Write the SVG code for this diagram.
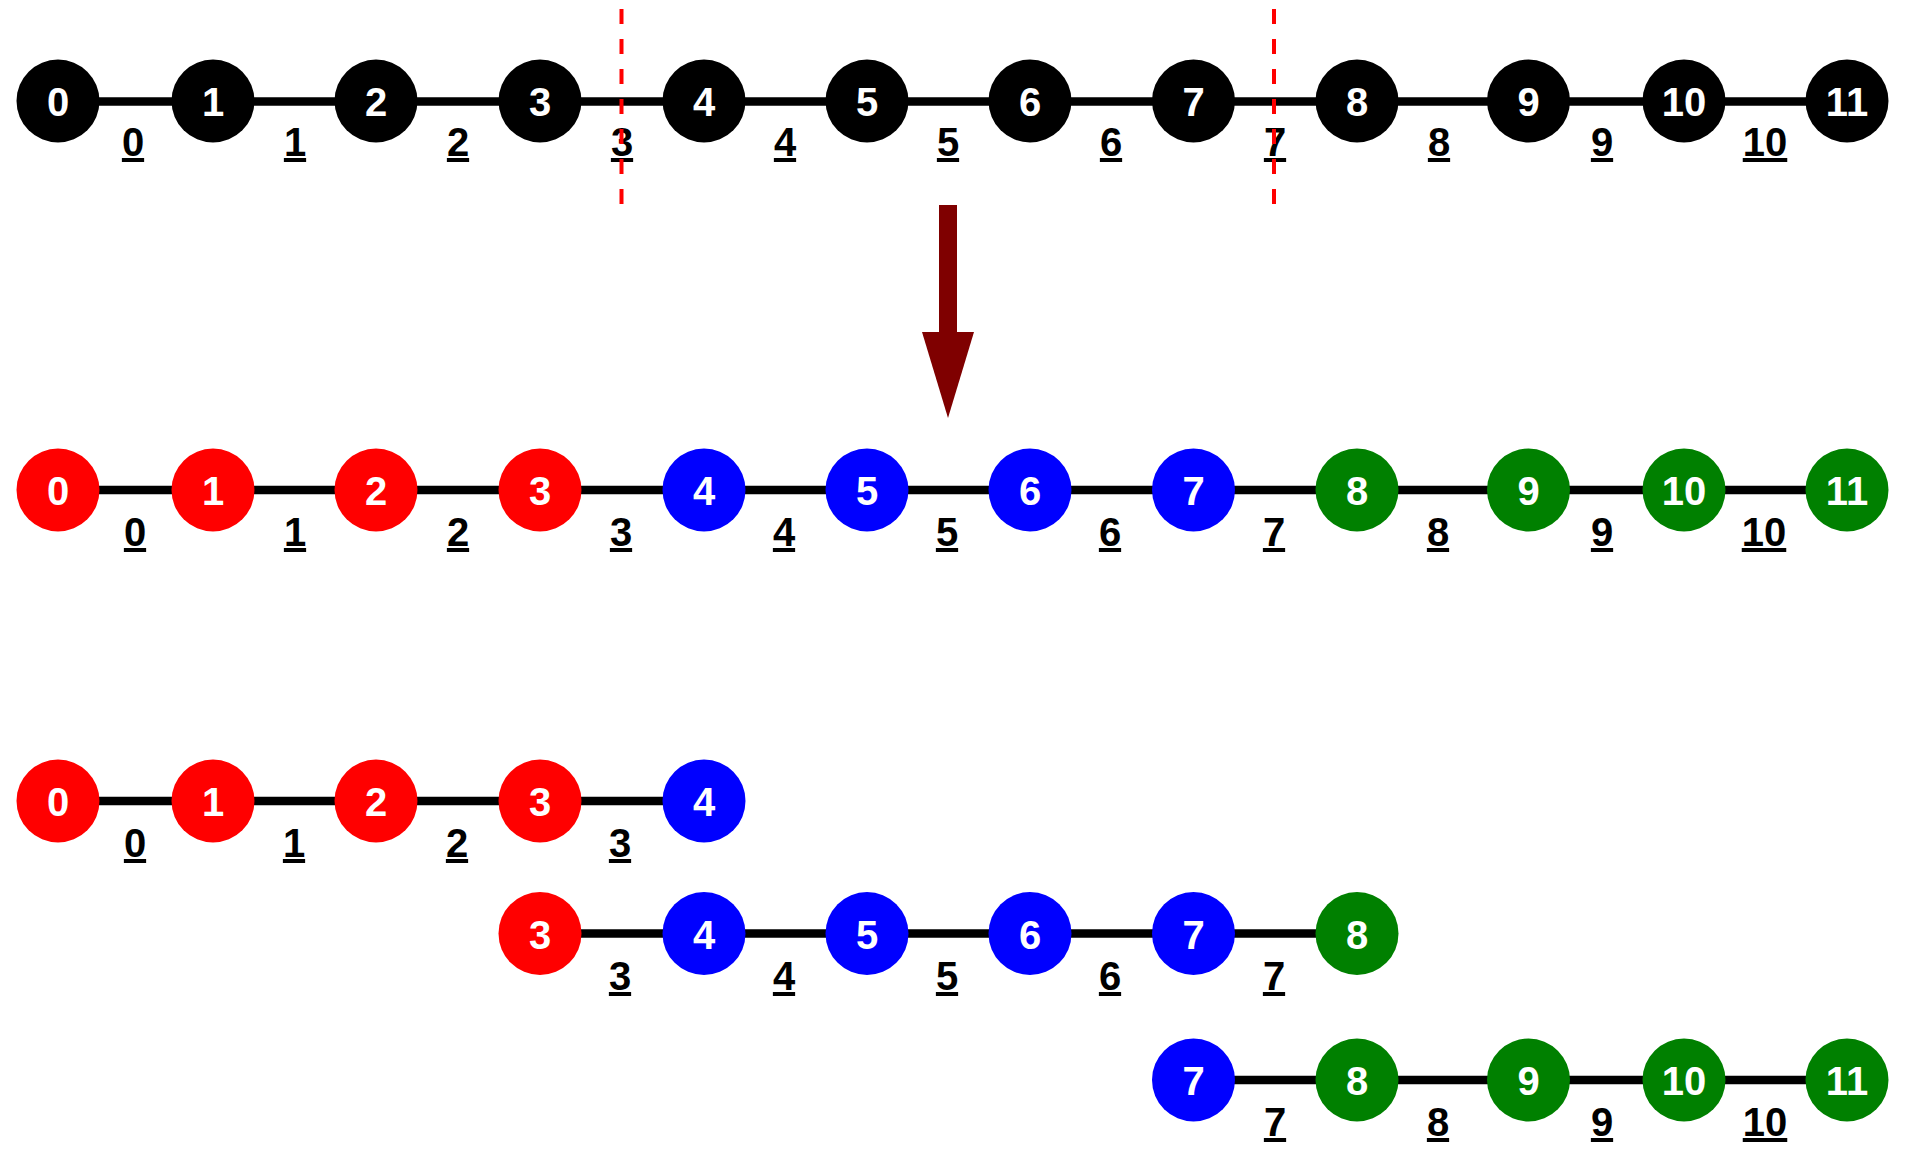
<svg xmlns="http://www.w3.org/2000/svg" width="1910" height="1152" viewBox="0 0 1910 1152">
<style>
.n text{font-family:"Liberation Sans",Arial,sans-serif;font-weight:bold;font-size:40px;fill:#fff;text-anchor:middle}
.lbl{font-family:"Liberation Sans",Arial,sans-serif;font-weight:bold;font-size:40px;fill:#000;text-anchor:middle;text-decoration:underline}
.e{stroke:#000;stroke-width:8.5;fill:none}
.k{fill:#000}.r{fill:#ff0000}.b{fill:#0000ff}.g{fill:#008000}
.cut{stroke:#ff0000;stroke-width:4;stroke-dasharray:15 15;fill:none}
</style>
<rect width="1910" height="1152" fill="#fff"/>
<g id="connectors">
<line class="e" x1="58" y1="101.5" x2="1847" y2="101.5"/>
<line class="e" x1="58" y1="490" x2="1847" y2="490"/>
<line class="e" x1="58" y1="801" x2="704" y2="801"/>
<line class="e" x1="540" y1="933.5" x2="1357" y2="933.5"/>
<line class="e" x1="1193.5" y1="1080" x2="1847" y2="1080"/>
</g>
<g id="edge-labels">
<text class="lbl" x="133" y="156">0</text><text class="lbl" x="295" y="156">1</text><text class="lbl" x="458" y="156">2</text><text class="lbl" x="622" y="156">3</text><text class="lbl" x="785" y="156">4</text><text class="lbl" x="948" y="156">5</text><text class="lbl" x="1111" y="156">6</text><text class="lbl" x="1275" y="156">7</text><text class="lbl" x="1439" y="156">8</text><text class="lbl" x="1602" y="156">9</text><text class="lbl" x="1765" y="156">10</text>
<text class="lbl" x="135" y="546">0</text><text class="lbl" x="295" y="546">1</text><text class="lbl" x="458" y="546">2</text><text class="lbl" x="621" y="546">3</text><text class="lbl" x="784" y="546">4</text><text class="lbl" x="947" y="546">5</text><text class="lbl" x="1110" y="546">6</text><text class="lbl" x="1274" y="546">7</text><text class="lbl" x="1438" y="546">8</text><text class="lbl" x="1602" y="546">9</text><text class="lbl" x="1764" y="546">10</text>
<text class="lbl" x="135" y="857">0</text><text class="lbl" x="294" y="857">1</text><text class="lbl" x="457" y="857">2</text><text class="lbl" x="620" y="857">3</text>
<text class="lbl" x="620" y="990">3</text><text class="lbl" x="784" y="990">4</text><text class="lbl" x="947" y="990">5</text><text class="lbl" x="1110" y="990">6</text><text class="lbl" x="1274" y="990">7</text>
<text class="lbl" x="1275" y="1136">7</text><text class="lbl" x="1438" y="1136">8</text><text class="lbl" x="1602" y="1136">9</text><text class="lbl" x="1765" y="1136">10</text>
</g>
<g id="row1">
<g id="a0" class="n"><circle class="k" cx="58" cy="101" r="41.5"/><text x="58" y="116">0</text></g>
<g id="a1" class="n"><circle class="k" cx="213" cy="101" r="41.5"/><text x="213" y="116">1</text></g>
<g id="a2" class="n"><circle class="k" cx="376" cy="101" r="41.5"/><text x="376" y="116">2</text></g>
<g id="a3" class="n"><circle class="k" cx="540" cy="101" r="41.5"/><text x="540" y="116">3</text></g>
<g id="a4" class="n"><circle class="k" cx="704" cy="101" r="41.5"/><text x="704" y="116">4</text></g>
<g id="a5" class="n"><circle class="k" cx="867" cy="101" r="41.5"/><text x="867" y="116">5</text></g>
<g id="a6" class="n"><circle class="k" cx="1030" cy="101" r="41.5"/><text x="1030" y="116">6</text></g>
<g id="a7" class="n"><circle class="k" cx="1193.5" cy="101" r="41.5"/><text x="1193.5" y="116">7</text></g>
<g id="a8" class="n"><circle class="k" cx="1357" cy="101" r="41.5"/><text x="1357" y="116">8</text></g>
<g id="a9" class="n"><circle class="k" cx="1528.5" cy="101" r="41.5"/><text x="1528.5" y="116">9</text></g>
<g id="a10" class="n"><circle class="k" cx="1684" cy="101" r="41.5"/><text x="1684" y="116">10</text></g>
<g id="a11" class="n"><circle class="k" cx="1847" cy="101" r="41.5"/><text x="1847" y="116">11</text></g>
</g>
<g id="cuts">
<line class="cut" x1="621.5" y1="9" x2="621.5" y2="205"/>
<line class="cut" x1="1274" y1="9" x2="1274" y2="205"/>
</g>
<g id="arrow">
<rect x="939" y="205" width="18" height="128" fill="#7f0000"/>
<polygon points="922,332 974,332 948,418" fill="#7f0000"/>
</g>
<g id="row2">
<g id="b0" class="n"><circle class="r" cx="58" cy="490" r="41.5"/><text x="58" y="505">0</text></g>
<g id="b1" class="n"><circle class="r" cx="213" cy="490" r="41.5"/><text x="213" y="505">1</text></g>
<g id="b2" class="n"><circle class="r" cx="376" cy="490" r="41.5"/><text x="376" y="505">2</text></g>
<g id="b3" class="n"><circle class="r" cx="540" cy="490" r="41.5"/><text x="540" y="505">3</text></g>
<g id="b4" class="n"><circle class="b" cx="704" cy="490" r="41.5"/><text x="704" y="505">4</text></g>
<g id="b5" class="n"><circle class="b" cx="867" cy="490" r="41.5"/><text x="867" y="505">5</text></g>
<g id="b6" class="n"><circle class="b" cx="1030" cy="490" r="41.5"/><text x="1030" y="505">6</text></g>
<g id="b7" class="n"><circle class="b" cx="1193.5" cy="490" r="41.5"/><text x="1193.5" y="505">7</text></g>
<g id="b8" class="n"><circle class="g" cx="1357" cy="490" r="41.5"/><text x="1357" y="505">8</text></g>
<g id="b9" class="n"><circle class="g" cx="1528.5" cy="490" r="41.5"/><text x="1528.5" y="505">9</text></g>
<g id="b10" class="n"><circle class="g" cx="1684" cy="490" r="41.5"/><text x="1684" y="505">10</text></g>
<g id="b11" class="n"><circle class="g" cx="1847" cy="490" r="41.5"/><text x="1847" y="505">11</text></g>
</g>
<g id="row3">
<g id="c0" class="n"><circle class="r" cx="58" cy="801" r="41.5"/><text x="58" y="816">0</text></g>
<g id="c1" class="n"><circle class="r" cx="213" cy="801" r="41.5"/><text x="213" y="816">1</text></g>
<g id="c2" class="n"><circle class="r" cx="376" cy="801" r="41.5"/><text x="376" y="816">2</text></g>
<g id="c3" class="n"><circle class="r" cx="540" cy="801" r="41.5"/><text x="540" y="816">3</text></g>
<g id="c4" class="n"><circle class="b" cx="704" cy="801" r="41.5"/><text x="704" y="816">4</text></g>
</g>
<g id="row4">
<g id="d3" class="n"><circle class="r" cx="540" cy="933.5" r="41.5"/><text x="540" y="948.5">3</text></g>
<g id="d4" class="n"><circle class="b" cx="704" cy="933.5" r="41.5"/><text x="704" y="948.5">4</text></g>
<g id="d5" class="n"><circle class="b" cx="867" cy="933.5" r="41.5"/><text x="867" y="948.5">5</text></g>
<g id="d6" class="n"><circle class="b" cx="1030" cy="933.5" r="41.5"/><text x="1030" y="948.5">6</text></g>
<g id="d7" class="n"><circle class="b" cx="1193.5" cy="933.5" r="41.5"/><text x="1193.5" y="948.5">7</text></g>
<g id="d8" class="n"><circle class="g" cx="1357" cy="933.5" r="41.5"/><text x="1357" y="948.5">8</text></g>
</g>
<g id="row5">
<g id="f7" class="n"><circle class="b" cx="1193.5" cy="1080" r="41.5"/><text x="1193.5" y="1095">7</text></g>
<g id="f8" class="n"><circle class="g" cx="1357" cy="1080" r="41.5"/><text x="1357" y="1095">8</text></g>
<g id="f9" class="n"><circle class="g" cx="1528.5" cy="1080" r="41.5"/><text x="1528.5" y="1095">9</text></g>
<g id="f10" class="n"><circle class="g" cx="1684" cy="1080" r="41.5"/><text x="1684" y="1095">10</text></g>
<g id="f11" class="n"><circle class="g" cx="1847" cy="1080" r="41.5"/><text x="1847" y="1095">11</text></g>
</g>
</svg>
